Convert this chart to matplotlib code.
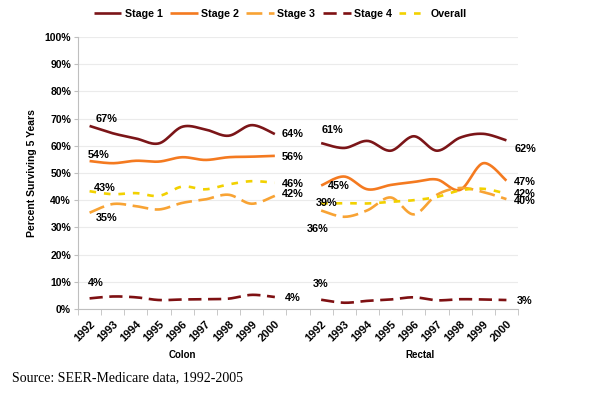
import numpy as np
import matplotlib
matplotlib.use("Agg")
import matplotlib.pyplot as plt
from matplotlib.lines import Line2D

plt.rcParams['font.family'] = ['Liberation Sans', 'DejaVu Sans']

years = ['1992', '1993', '1994', '1995', '1996', '1997', '1998', '1999', '2000']
groups = ['Colon', 'Rectal']
series_names = ['Stage 1', 'Stage 2', 'Stage 3', 'Stage 4', 'Overall']

colon_stage1 = [67.3, 64.6, 62.7, 60.9, 67.0, 66.0, 63.7, 67.6, 64.3]
colon_stage2 = [54.4, 53.6, 54.5, 54.2, 55.8, 54.8, 55.8, 56.0, 56.3]
colon_stage3 = [35.4, 38.6, 37.8, 36.6, 39.0, 40.3, 42.0, 38.7, 41.6]
colon_stage4 = [3.9, 4.6, 4.3, 3.3, 3.5, 3.6, 3.8, 5.2, 4.4]
colon_overall = [43.3, 42.2, 42.6, 41.6, 45.0, 44.0, 45.8, 47.0, 46.4]

rectal_stage1 = [61.0, 59.2, 61.8, 58.2, 63.5, 58.2, 63.0, 64.4, 62.0]
rectal_stage2 = [45.4, 48.7, 44.0, 45.6, 46.7, 47.6, 43.8, 53.6, 47.2]
rectal_stage3 = [36.2, 33.9, 36.3, 41.0, 34.8, 42.0, 44.5, 43.0, 40.4]
rectal_stage4 = [3.4, 2.3, 3.0, 3.5, 4.3, 3.2, 3.6, 3.5, 3.3]
rectal_overall = [38.8, 38.9, 38.8, 39.4, 40.0, 41.2, 43.6, 44.2, 42.4]

colon = [colon_stage1, colon_stage2, colon_stage3, colon_stage4, colon_overall]
rectal = [rectal_stage1, rectal_stage2, rectal_stage3, rectal_stage4, rectal_overall]

colors = ['#7B1518', '#F47A20', '#F8A334', '#7E1012', '#F2D100']
dashes = [None, None, (6, 2.5), (5, 2.5), (2.5, 3)]
lw = 1.9

# label offsets in pixels (first, last) per series
colon_off = [((16.5, 7), (18, 0)), ((9.5, 6), (18, -1)), ((17.5, -5), (18, 2)),
             ((6.5, 15), (18, -1)), ((15.5, 3), (18, -1))]
rectal_off = [((11, 13), (19, -9)), ((18, 0), (18, -1)), ((-3, -18), (18, -2)),
              ((-1, 16), (18, -1)), ((5, 0), (18, 0))]


def smooth(x, y, n=24):
    x = np.asarray(x, float)
    y = np.asarray(y, float)
    P = np.column_stack([x, y])
    P = np.vstack([P[0], P, P[-1]])
    out = []
    for i in range(1, len(P) - 2):
        p0, p1, p2, p3 = P[i - 1], P[i], P[i + 1], P[i + 2]
        c1 = p1 + (p2 - p0) / 6.0
        c2 = p2 - (p3 - p1) / 6.0
        t = np.linspace(0, 1, n)[:, None]
        b = ((1 - t) ** 3) * p1 + 3 * ((1 - t) ** 2) * t * c1 + 3 * (1 - t) * t ** 2 * c2 + t ** 3 * p2
        out.append(b if i == 1 else b[1:])
    out = np.vstack(out)
    return out[:, 0], out[:, 1]


fig = plt.figure(figsize=(6.0, 3.93), dpi=100)
ax = fig.add_axes([78 / 600, 1 - 309 / 393, 440 / 600, 272 / 393])

xc = np.arange(len(years))
xr = np.arange(len(years)) + len(years) + 1

for k in range(5):
    for xs, data, offs in ((xc, colon, colon_off), (xr, rectal, rectal_off)):
        sx, sy = smooth(xs, data[k])
        ln, = ax.plot(sx, sy, color=colors[k], lw=lw, solid_capstyle='butt',
                      dash_capstyle='butt', zorder=3)
        if dashes[k] is not None:
            ln.set_dashes(dashes[k])
        for idx, off in ((0, offs[k][0]), (-1, offs[k][1])):
            ax.annotate(f"{round(data[k][idx]):.0f}%", xy=(xs[idx], data[k][idx]),
                        xytext=off, textcoords='offset pixels', ha='center', va='center',
                        fontsize=7.8, fontweight='bold', color='black', zorder=5)

ax.set_xlim(-0.5, 2 * len(years) + 0.5)
ax.set_ylim(0, 100)
ax.set_yticks(np.arange(0, 101, 10))
ax.set_yticklabels([f"{v}%" for v in range(0, 101, 10)], fontsize=7.5, fontweight='bold')
ax.yaxis.grid(True, color='#EBEBEB', lw=0.8)
ax.set_axisbelow(True)

major = list(xc) + list(xr)
ax.set_xticks(major)
ax.set_xticklabels(years + years, rotation=45, ha='right', va='top', rotation_mode='anchor',
                   fontsize=8, fontweight='bold')
ax.set_xticks(np.arange(-0.5, 2 * len(years) + 1, 1.0), minor=True)
ax.tick_params(axis='x', which='major', length=0, pad=7)
ax.tick_params(axis='x', which='minor', length=4, color='#BFBFBF', direction='out')
ax.tick_params(axis='y', length=3, color='#BFBFBF', pad=2)
for s in ('top', 'right'):
    ax.spines[s].set_visible(False)
for s in ('left', 'bottom'):
    ax.spines[s].set_color('#BFBFBF')
    ax.spines[s].set_linewidth(0.8)

fig.text(32 / 600, 1 - 173 / 393, 'Percent Surviving 5 Years', rotation=90, ha='center',
         va='center', fontsize=7.5, fontweight='bold')
fig.text(182 / 600, 1 - 355 / 393, groups[0], ha='center', va='center', fontsize=7, fontweight='bold')
fig.text(420 / 600, 1 - 355 / 393, groups[1], ha='center', va='center', fontsize=7, fontweight='bold')
fig.text(12 / 600, 1 - 378 / 393, 'Source: SEER-Medicare data, 1992-2005', ha='left', va='center',
         fontsize=10, family='Liberation Serif')

handles = []
for k in range(5):
    h = Line2D([], [], color=colors[k], lw=lw, solid_capstyle='butt', dash_capstyle='butt')
    if dashes[k] is not None:
        h.set_dashes(dashes[k])
    handles.append(h)
leg = fig.legend(handles, series_names, loc='center', bbox_to_anchor=(280 / 600, 1 - 14 / 393),
                 ncol=5, frameon=False, handlelength=2.6, handletextpad=0.3, columnspacing=0.7,
                 prop={'size': 7.7, 'weight': 'bold'})

fig.savefig('out.png', dpi=100)
